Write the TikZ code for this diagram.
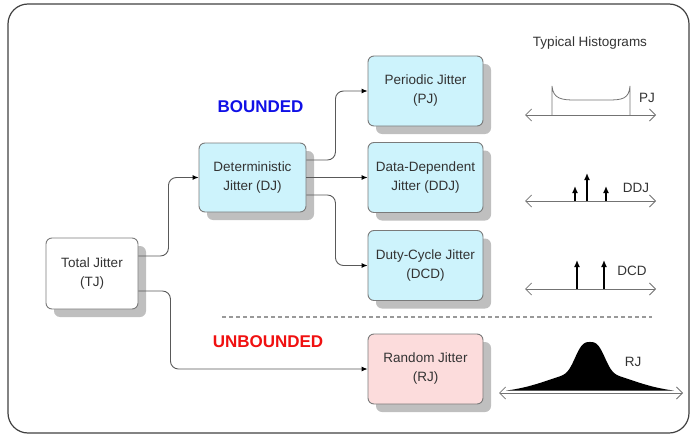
\documentclass[tikz,border=0pt]{standalone}
\usepackage{fontspec}
\setmainfont{Liberation Sans}
\usetikzlibrary{positioning}
\usetikzlibrary{arrows.meta}
\usetikzlibrary{shadows}
\usepackage{xcolor}

\definecolor{boxblue}{HTML}{CDF3FC}
\definecolor{boxpink}{HTML}{FCDCDC}
\definecolor{boxline}{HTML}{7A7A7A}
\definecolor{textgray}{HTML}{333333}

\begin{document}
\begin{tikzpicture}[x=1pt, y=-1pt,
  jbox/.style={draw=boxline, line width=0.9pt, rounded corners=6pt, align=center, inner sep=0pt,
    text=textgray, font=\fontsize{13.5}{19}\selectfont,
    drop shadow={shadow xshift=8pt, shadow yshift=-8pt, fill=black!25, opacity=1}},
  rbox/.style={jbox, minimum width=115pt, minimum height=70pt},
  conn/.style={draw=black!65, line width=0.9pt, rounded corners=8pt, -{Latex[length=6pt,width=5pt,color=black]}},
  haxis/.style={draw=black!55, line width=0.8pt, {Straight Barb[length=6pt,width=12pt]}-{Straight Barb[length=6pt,width=12pt]}},
  spike/.style={line width=1.3pt, -{Latex[length=7pt,width=6pt]}},
  hlabel/.style={text=textgray, font=\fontsize{13.5}{16}\selectfont, inner sep=0pt}]

\useasboundingbox (0,0) rectangle (691,436);

% frame
\draw[black!75, line width=1.2pt, rounded corners=20pt] (8,4) rectangle (689,433);

% boxes
\node[jbox, fill=white, minimum width=92pt, minimum height=71pt] (tj) at (92,273.5) {Total Jitter\\(TJ)};
\node[jbox, fill=boxblue, minimum width=107pt, minimum height=69pt] (dj) at (252.5,177.5) {Deterministic\\Jitter (DJ)};

\node[rbox, fill=boxblue] (pj) at (425.5,91) {Periodic Jitter\\(PJ)};
\node[rbox, fill=boxblue] (ddj) at (425.5,177.5) {Data-Dependent\\Jitter (DDJ)};
\node[rbox, fill=boxblue] (dcd) at (425.5,265.5) {Duty-Cycle Jitter\\(DCD)};
\node[rbox, fill=boxpink] (rj) at (425.5,369) {Random Jitter\\(RJ)};

% connectors
\draw[conn] ([yshift=17.5pt]tj.east) -- ++(30,0) |- (dj.west);
\draw[conn] ([yshift=-17.5pt]tj.east) -- ++(32,0) |- (rj.west);
\draw[conn] ([yshift=17.5pt]dj.east) -- ++(29,0) |- (pj.west);
\draw[conn] (dj.east) -- (ddj.west);
\draw[conn] ([yshift=-17.5pt]dj.east) -- ++(29,0) |- (dcd.west);

% bounded / unbounded
\node[text={rgb,255:red,16;green,16;blue,230}, font=\fontsize{17}{20}\selectfont\bfseries] (bnd) at (260.5,107) {BOUNDED};
\node[text={rgb,255:red,240;green,16;blue,16}, font=\fontsize{17}{20}\selectfont\bfseries] (unbnd) at (268,342) {UNBOUNDED};
\draw[black!40, line width=1.2pt, dash pattern=on 4pt off 3pt] (222,317) -- (652,317);

\node[hlabel] (histo) at (590,43) {Typical Histograms};

% PJ histogram
\draw[haxis] (525,115) -- (656,115);
\draw[black!55, line width=0.8pt] (552,115) -- (552,86) .. controls (553,99) and (562,100) .. (575,100)
  -- (608,100) .. controls (622,100) and (629,99) .. (630,86) -- (630,115);
\node[hlabel] (pjlab) at (647,98) {PJ};

% DDJ histogram
\draw[haxis] (525,201) -- (656,201);
\draw[spike] (575,201) -- (575,186);
\draw[spike] (587,201) -- (587,173);
\draw[spike] (606,201) -- (606,186);
\node[hlabel] (ddjlab) at (636,188) {DDJ};

% DCD histogram
\draw[haxis] (525,289) -- (656,289);
\draw[spike] (577,289) -- (577,260);
\draw[spike] (604,289) -- (604,260);
\node[hlabel] (dcdlab) at (632,271) {DCD};

% RJ histogram
\fill[black] plot[domain=-84:84, samples=160] ({590+\x}, {393-(29*exp(-((abs(\x)/17)^3))+22*exp(-((\x)^2)/3200))}) -- cycle;
\draw[haxis] (499,393) -- (683,393);
\node[hlabel] (rjlab) at (633,362) {RJ};

\end{tikzpicture}
\end{document}
